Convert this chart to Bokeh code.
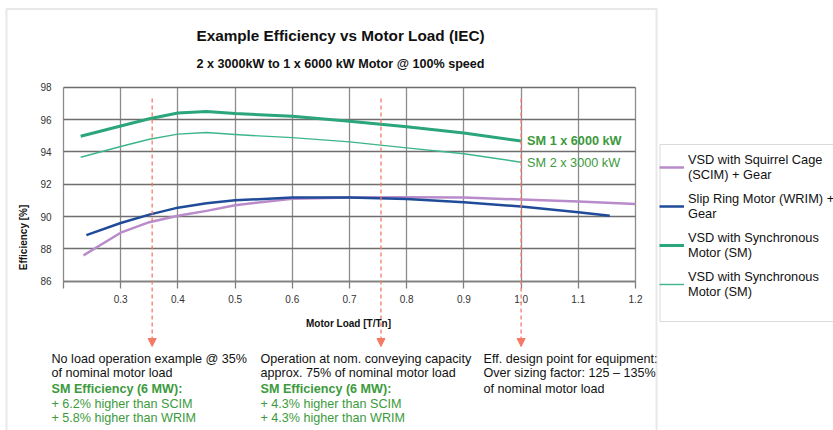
from bokeh.plotting import figure
from bokeh.models import (Range1d, FixedTicker, Label, Arrow, NormalHead, Legend,
                          LegendItem, PolyAnnotation)
from bokeh.embed import file_html
from bokeh.resources import INLINE

# ---------------- data ----------------
load_scim = [0.235, 0.3, 0.35, 0.4, 0.45, 0.5, 0.6, 0.7, 0.8, 0.9, 1.0, 1.1, 1.2]
eff_scim = [87.6, 89.0, 89.65, 90.05, 90.35, 90.7, 91.1, 91.17, 91.2, 91.18, 91.05, 90.93, 90.78]

load_wrim = [0.24, 0.3, 0.35, 0.4, 0.45, 0.5, 0.6, 0.7, 0.8, 0.9, 1.0, 1.1, 1.155]
eff_wrim = [88.85, 89.6, 90.12, 90.55, 90.82, 91.0, 91.17, 91.17, 91.08, 90.88, 90.62, 90.27, 90.05]

load_sm = [0.23, 0.3, 0.35, 0.4, 0.45, 0.5, 0.6, 0.7, 0.8, 0.9, 1.0]
eff_sm_6000 = [94.97, 95.6, 96.05, 96.4, 96.5, 96.37, 96.2, 95.9, 95.55, 95.17, 94.67]
eff_sm_3000 = [93.67, 94.33, 94.78, 95.1, 95.2, 95.07, 94.88, 94.62, 94.25, 93.88, 93.36]

marker_loads = [0.355, 0.755, 1.0]

x_ticks = [0.2, 0.3, 0.4, 0.5, 0.6, 0.7, 0.8, 0.9, 1.0, 1.1, 1.2]
x_tick_labels = ["", "0.3", "0.4", "0.5", "0.6", "0.7", "0.8", "0.9", "1.0", "1.1", "1.2"]
y_ticks = [86, 88, 90, 92, 94, 96, 98]

legend_labels = ["VSD with Squirrel Cage\n(SCIM) + Gear",
                 "Slip Ring Motor (WRIM) +\nGear",
                 "VSD with Synchronous\nMotor (SM)",
                 "VSD with Synchronous\nMotor (SM)"]

title_text = "Example Efficiency vs Motor Load (IEC)"
subtitle_text = "2 x 3000kW to 1 x 6000 kW Motor @ 100% speed"

notes = [
    ["No load operation example @ 35%", "of nominal motor load",
     "SM Efficiency (6 MW):", "+ 6.2% higher than SCIM", "+ 5.8% higher than WRIM"],
    ["Operation at nom. conveying capacity", "approx. 75% of nominal motor load",
     "SM Efficiency (6 MW):", "+ 4.3% higher than SCIM", "+ 4.3% higher than WRIM"],
    ["Eff. design point for equipment:", "Over sizing factor: 125 \u2013 135%",
     "of nominal motor load"],
]

# ---------------- styling ----------------
FONT = "Liberation Sans, Arial, sans-serif"
C_SCIM = "#b98bcb"
C_WRIM = "#1f4b99"
C_SM6 = "#2ba57a"
C_SM3 = "#3db58a"
C_RED = "#f47a66"
C_TXTGREEN = "#3c9a3c"
C_VGRID = "#8c8c8c"
C_HGRID = "#6e6e6e"

X_LO, X_HI, Y_LO, Y_HI = 0.2, 1.2, 86, 98
# canvas-pixel positions of the chart area (used to set the scales / place notes)
FX0, FX1, FY0, FY1 = 63, 635, 86.7, 280.7
W, H = 833, 430


def dx(px):
    return X_LO + (px - FX0) * (X_HI - X_LO) / (FX1 - FX0)


def dy(py):
    return Y_HI - (py - FY0) * (Y_HI - Y_LO) / (FY1 - FY0)


p = figure(width=W, height=H, output_backend="svg", toolbar_location=None,
           x_range=Range1d(dx(0), dx(W)), y_range=Range1d(dy(H), dy(0)),
           min_border_left=0, min_border_right=0, min_border_top=0,
           min_border_bottom=0, background_fill_color="white",
           border_fill_color="white")
p.outline_line_color = None

# ---------------- grid ----------------
xg, yg = p.xgrid[0], p.ygrid[0]
xg.ticker = FixedTicker(ticks=x_ticks)
yg.ticker = FixedTicker(ticks=y_ticks)
if "cross_bounds" in xg.properties():
    xg.bounds = (X_LO, X_HI)
    xg.cross_bounds = (Y_LO, Y_HI)
    yg.bounds = (Y_LO, Y_HI)
    yg.cross_bounds = (X_LO, X_HI)
    xg.grid_line_color = C_VGRID
    xg.grid_line_width = 1.3
    yg.grid_line_color = C_HGRID
    yg.grid_line_width = 1.3
else:
    xg.grid_line_color = None
    yg.grid_line_color = None
    p.segment(x0=x_ticks, x1=x_ticks, y0=[Y_LO] * len(x_ticks), y1=[Y_HI] * len(x_ticks),
              line_color=C_VGRID, line_width=1.3)
    p.segment(x0=[X_LO] * len(y_ticks), x1=[X_HI] * len(y_ticks), y0=y_ticks, y1=y_ticks,
              line_color=C_HGRID, line_width=1.3)

# ---------------- axes ----------------
p.xaxis.fixed_location = Y_LO
p.xaxis.bounds = (X_LO, X_HI)
p.xaxis.ticker = FixedTicker(ticks=x_ticks)
p.xaxis.major_label_overrides = dict(zip(x_ticks, x_tick_labels))
p.xaxis.major_tick_out = 7
p.xaxis.major_tick_in = 0
p.xaxis.minor_tick_line_color = None
p.xaxis.major_tick_line_color = "#808080"
p.xaxis.major_tick_line_width = 1.3
p.xaxis.axis_line_color = "#808080"
p.xaxis.axis_line_width = 1.3
p.xaxis.major_label_standoff = 7
p.xaxis.major_label_text_font = FONT
p.xaxis.major_label_text_font_size = "10px"
p.xaxis.major_label_text_color = "#333333"

p.yaxis.fixed_location = X_LO
p.yaxis.bounds = (Y_LO, Y_HI)
p.yaxis.ticker = FixedTicker(ticks=y_ticks)
p.yaxis.major_tick_out = 0
p.yaxis.major_tick_in = 0
p.yaxis.minor_tick_line_color = None
p.yaxis.axis_line_color = None
p.yaxis.major_label_standoff = 12
p.yaxis.major_label_text_font = FONT
p.yaxis.major_label_text_font_size = "10px"
p.yaxis.major_label_text_color = "#333333"

# ---------------- curves ----------------
r_scim = p.line(load_scim, eff_scim, line_color=C_SCIM, line_width=2.5, line_join="round")
r_wrim = p.line(load_wrim, eff_wrim, line_color=C_WRIM, line_width=2.5, line_join="round")
r_sm3 = p.line(load_sm, eff_sm_3000, line_color=C_SM3, line_width=1.4, line_join="round")
r_sm6 = p.line(load_sm, eff_sm_6000, line_color=C_SM6, line_width=3, line_join="round")

# curve labels
p.add_layout(Label(x=load_sm[-1], y=eff_sm_6000[-1], x_offset=6, y_offset=0,
                   text="SM 1 x 6000 kW", text_font=FONT, text_font_size="12.7px",
                   text_font_style="bold", text_color=C_TXTGREEN, text_baseline="middle"))
p.add_layout(Label(x=load_sm[-1], y=eff_sm_3000[-1], x_offset=6, y_offset=-1,
                   text="SM 2 x 3000 kW", text_font=FONT, text_font_size="12.7px",
                   text_color=C_TXTGREEN, text_baseline="middle"))

# ---------------- dashed markers ----------------
for xm in marker_loads:
    p.add_layout(Arrow(end=NormalHead(size=8, fill_color=C_RED, line_color=C_RED),
                       x_start=xm, y_start=dy(98), x_end=xm, y_end=dy(346),
                       line_color=C_RED, line_width=1.3, line_dash="4 3"))

# ---------------- titles ----------------
p.add_layout(Label(x=dx(340), y=dy(35), text=title_text, text_font=FONT,
                   text_font_size="15.3px", text_font_style="bold", text_color="#111111",
                   text_align="center", text_baseline="middle"))
p.add_layout(Label(x=dx(340), y=dy(63), text=subtitle_text, text_font=FONT,
                   text_font_size="12.6px", text_font_style="bold", text_color="#111111",
                   text_align="center", text_baseline="middle"))
p.add_layout(Label(x=dx(23), y=dy(237), text="Efficiency [%]", text_font=FONT,
                   text_font_size="10px", text_font_style="bold", text_color="#111111",
                   angle=90, angle_units="deg", text_align="center", text_baseline="middle"))
p.add_layout(Label(x=dx(348), y=dy(323), text="Motor Load [T/Tn]", text_font=FONT,
                   text_font_size="10px", text_font_style="bold", text_color="#111111",
                   text_align="center", text_baseline="middle"))

# ---------------- notes below chart ----------------
note_x = [51, 260, 483]
line_y = [358, 372.5, 388.5, 403, 417.5]
for bx, block in zip(note_x, notes):
    for i, t in enumerate(block):
        green = len(block) == 5 and i >= 2
        p.add_layout(Label(x=dx(bx), y=dy(line_y[i]), text=t, text_font=FONT,
                           text_font_size="12.6px",
                           text_font_style="bold" if (green and i == 2) else "normal",
                           text_color=C_TXTGREEN if green else "#111111",
                           text_baseline="middle", text_align="left"))

# ---------------- outer frame & legend frame ----------------
p.add_layout(PolyAnnotation(xs=[dx(6), dx(656), dx(656), dx(6)],
                            ys=[dy(8.5), dy(8.5), dy(445), dy(445)],
                            fill_color=None, line_color="#b4b4b4", line_width=2))
p.add_layout(PolyAnnotation(xs=[dx(659.5), dx(845), dx(845), dx(659.5)],
                            ys=[dy(144), dy(144), dy(321), dy(321)],
                            fill_color="white", line_color="#888888", line_width=1))

# ---------------- legend ----------------
items = [LegendItem(label=lab, renderers=[r])
         for lab, r in zip(legend_labels, [r_scim, r_wrim, r_sm6, r_sm3])]
legend = Legend(items=items, location=(659, 131), label_text_font=FONT,
                label_text_font_size="12.8px", label_text_color="#111111",
                glyph_width=25, glyph_height=20, label_standoff=4, padding=4,
                spacing=9, margin=0, border_line_color=None,
                background_fill_color="white", background_fill_alpha=0)
p.add_layout(legend)

open("out.html", "w").write(file_html(p, INLINE))
